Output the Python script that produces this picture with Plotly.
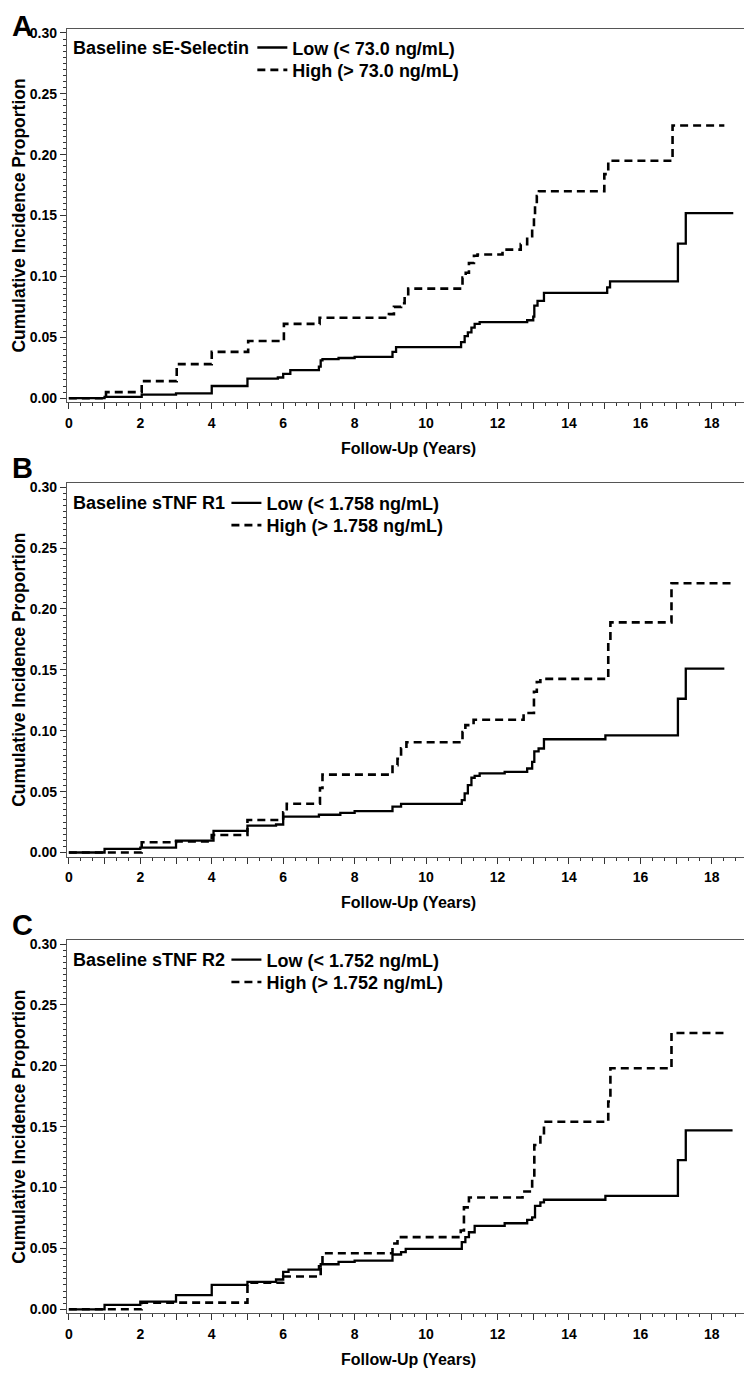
import plotly.graph_objects as go

# ---------------- data ----------------
panel_letters = ["A", "B", "C"]
marker_names = ["Baseline sE-Selectin", "Baseline sTNF R1", "Baseline sTNF R2"]
low_labels = ["Low (< 73.0 ng/mL)", "Low (< 1.758 ng/mL)", "Low (< 1.752 ng/mL)"]
high_labels = ["High (> 73.0 ng/mL)", "High (> 1.758 ng/mL)", "High (> 1.752 ng/mL)"]

a_low_t = [0, 1.0, 2.04, 3.0, 4.0, 5.0, 5.85, 6.0, 6.2, 7.0, 7.05, 7.1, 7.55, 8.0, 9.06, 9.16,
           10.98, 11.08, 11.17, 11.27, 11.36, 11.5, 12.83, 13.0, 13.03, 13.12, 13.3, 15.07, 15.15,
           17.05, 17.27, 18.6]
a_low_v = [0, 0.001, 0.003, 0.004, 0.010, 0.016, 0.017, 0.020, 0.023, 0.026, 0.031, 0.032, 0.033,
           0.034, 0.038, 0.042, 0.046, 0.051, 0.054, 0.058, 0.061, 0.0625, 0.064, 0.067, 0.076,
           0.080, 0.0865, 0.091, 0.096, 0.127, 0.152, 0.152]
a_high_t = [0, 1.04, 2.04, 3.02, 4.0, 5.02, 6.02, 7.02, 8.96, 9.1, 9.3, 9.4, 9.5, 10.95, 11.02,
            11.11, 11.2, 11.34, 11.44, 12.14, 12.65, 12.83, 12.97, 13.02, 13.05, 13.1, 13.16,
            14.99, 15.1, 16.9, 18.35]
a_high_v = [0, 0.005, 0.014, 0.028, 0.038, 0.047, 0.061, 0.066, 0.069, 0.075, 0.078, 0.084,
            0.090, 0.093, 0.099, 0.103, 0.111, 0.117, 0.118, 0.122, 0.1265, 0.133, 0.139, 0.148,
            0.158, 0.166, 0.170, 0.184, 0.195, 0.224, 0.224]

b_low_t = [0, 1.0, 2.0, 3.0, 4.05, 5.0, 5.8, 6.0, 7.0, 7.6, 8.0, 9.06, 9.3, 11.0, 11.08, 11.17,
           11.27, 11.36, 11.5, 12.2, 12.83, 12.97, 13.03, 13.15, 13.3, 15.02, 17.05, 17.27, 18.35]
b_low_v = [0, 0.003, 0.004, 0.0098, 0.0177, 0.022, 0.023, 0.0295, 0.031, 0.0325, 0.034, 0.0376,
           0.040, 0.043, 0.0485, 0.0553, 0.0614, 0.063, 0.065, 0.0663, 0.069, 0.0745, 0.083,
           0.0854, 0.093, 0.0962, 0.1263, 0.151, 0.151]
b_high_t = [0, 2.04, 3.0, 4.0, 5.0, 6.0, 6.1, 7.03, 7.1, 9.06, 9.2, 9.3, 9.45, 11.02, 11.1, 11.33,
            12.73, 13.02, 13.1, 13.2, 15.1, 15.16, 16.87, 18.6]
b_high_v = [0, 0.0084, 0.009, 0.0144, 0.0267, 0.033, 0.040, 0.053, 0.064, 0.0718, 0.077, 0.0856,
            0.0905, 0.099, 0.1046, 0.109, 0.1146, 0.132, 0.140, 0.1426, 0.1727, 0.189, 0.2212,
            0.2212]

c_low_t = [0, 1.0, 2.0, 3.0, 4.0, 5.0, 5.8, 6.0, 6.15, 7.0, 7.05, 7.55, 8.0, 9.06, 9.3, 9.43,
           11.0, 11.1, 11.2, 11.36, 12.2, 12.83, 12.97, 13.05, 13.2, 13.3, 15.02, 17.05, 17.27,
           18.58]
c_low_v = [0, 0.0036, 0.0063, 0.0117, 0.020, 0.0226, 0.0245, 0.0307, 0.0326, 0.0354, 0.037,
           0.039, 0.040, 0.045, 0.047, 0.0497, 0.0552, 0.0593, 0.0633, 0.0685, 0.0707, 0.0734,
           0.0755, 0.085, 0.0878, 0.090, 0.0932, 0.1226, 0.147, 0.147]
c_high_t = [0, 2.04, 5.0, 6.0, 7.05, 7.1, 9.06, 9.2, 10.97, 11.06, 11.2, 12.7, 12.97, 13.03, 13.2,
            13.3, 15.1, 15.16, 16.87, 18.35]
c_high_v = [0, 0.0055, 0.0218, 0.027, 0.0375, 0.046, 0.054, 0.0593, 0.0647, 0.0837, 0.0918,
            0.0967, 0.108, 0.135, 0.1434, 0.154, 0.1707, 0.198, 0.227, 0.227]

low_series = [(a_low_t, a_low_v), (b_low_t, b_low_v), (c_low_t, c_low_v)]
high_series = [(a_high_t, a_high_v), (b_high_t, b_high_v), (c_high_t, c_high_v)]

x_tick_vals = list(range(0, 20))
x_tick_text = [str(v) if v % 2 == 0 else "" for v in x_tick_vals]
y_tick_vals = [0.00, 0.05, 0.10, 0.15, 0.20, 0.25, 0.30]
y_tick_text = ["0.00", "0.05", "0.10", "0.15", "0.20", "0.25", "0.30"]

# ---------------- layout geometry ----------------
# the page body has an 8px default margin; geometry below is in window pixels
OFF = 8
W, H = 752 - OFF, 1373 - OFF
FONT = "Liberation Sans, Arial, sans-serif"
plot_left, plot_right = 65, 749.5
panel_tops = [25, 482, 941.5]
panel_h = 375.5
letter_cy = [22, 467, 926]
legend_item_x = [251, 225, 225]      # left of legend box (text starts 40px later)
legend_low_cy = [44.0, 502.0, 961.5]  # centre of first legend row
legend_row_gap = 22.5


def fx(px):
    return (px - OFF) / W


def fy(px):
    return 1 - (px - OFF) / H


fig = go.Figure()
layout = dict(
    width=W, height=H,
    margin=dict(l=0, r=0, t=0, b=0),
    paper_bgcolor="white", plot_bgcolor="white",
    font=dict(family=FONT, color="black"),
    showlegend=True,
    annotations=[],
)

legend_count = 0
for i in range(3):
    n = "" if i == 0 else str(i + 1)
    xa, ya = "x" + n, "y" + n
    top = panel_tops[i]
    bot = top + panel_h

    for j, (series, label, lw, dash) in enumerate([
            (low_series[i], low_labels[i], 2.3, "solid"),
            (high_series[i], high_labels[i], 2.6, "8px,5px")]):
        legend_count += 1
        leg = "legend" if legend_count == 1 else "legend" + str(legend_count)
        fig.add_trace(go.Scatter(
            x=series[0], y=series[1], mode="lines", line_shape="hv",
            line=dict(color="black", width=lw, dash=dash), showlegend=True,
            name="<b>" + label + "</b>", xaxis=xa, yaxis=ya, legend=leg))
        cy = legend_low_cy[i] + j * legend_row_gap
        layout[leg] = dict(
            x=fx(legend_item_x[i]), y=fy(cy), xanchor="left", yanchor="middle",
            bgcolor="rgba(0,0,0,0)", borderwidth=0, tracegroupgap=0,
            itemwidth=30, orientation="v", visible=True,
            font=dict(family=FONT, size=18, color="black"),
        )

    axis_common = dict(
        showline=True, linecolor="#555555", linewidth=1, mirror=True,
        showgrid=False, zeroline=False, ticks="outside", tickcolor="#333333",
        tickwidth=1, ticklen=6,
        tickfont=dict(family=FONT, size=14, color="black", weight="bold"),
    )
    layout["xaxis" + n] = dict(
        axis_common, domain=[fx(plot_left), fx(plot_right)], anchor=ya,
        range=[-0.056, 19.054], tickmode="array", tickvals=x_tick_vals,
        ticktext=x_tick_text, ticklabelstandoff=2,
        minor=dict(ticks="outside", dtick=1 / 3, tick0=0, ticklen=3,
                   tickcolor="#333333", tickwidth=1, showgrid=False),
    )
    layout["yaxis" + n] = dict(
        axis_common, domain=[fy(bot), fy(top)], anchor=xa,
        range=[-0.0033, 0.3033], tickmode="array", tickvals=y_tick_vals,
        ticktext=y_tick_text,
        minor=dict(ticks="outside", dtick=0.005, tick0=0, ticklen=3,
                   tickcolor="#333333", tickwidth=1, showgrid=False),
    )
    layout["annotations"] += [
        dict(text="<b>" + marker_names[i] + "</b>", xref="paper", yref="paper",
             x=fx(69), y=fy(legend_low_cy[i]), xanchor="left", yanchor="middle",
             showarrow=False, font=dict(family=FONT, size=18, color="black")),
        dict(text="<b>" + panel_letters[i] + "</b>", xref="paper", yref="paper",
             x=fx(OFF), y=fy(letter_cy[i]), xanchor="left", yanchor="middle",
             showarrow=False, font=dict(family=FONT, size=29, color="black")),
        dict(text="<b>Follow-Up (Years)</b>", xref="paper", yref="paper",
             x=fx((plot_left + plot_right) / 2), y=fy(bot + 46.5), xanchor="center",
             yanchor="middle", showarrow=False,
             font=dict(family=FONT, size=16, color="black")),
        dict(text="<b>Cumulative Incidence Proportion</b>", xref="paper", yref="paper",
             x=fx(17), y=fy((top + bot) / 2), xanchor="center", yanchor="middle",
             textangle=-90, showarrow=False,
             font=dict(family=FONT, size=17.5, color="black")),
    ]

fig.update_layout(**layout)
fig.write_html("out.html")
